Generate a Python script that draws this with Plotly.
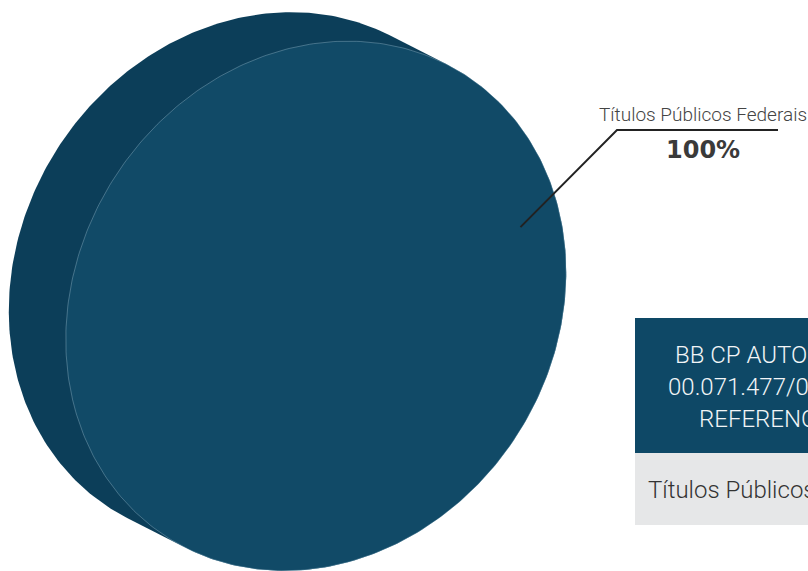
import numpy as np
import plotly.graph_objects as go

# ---- data ----
categories = ["Títulos Públicos Federais"]
values = [100]
fund_header = ["BB CP AUTOMÁTICO", "00.071.477/0001-68", "REFERENCIADO"]

# ---- geometry of the pseudo-3D pie (pixel coordinates) ----
W, H = 808, 571
cx, cy = 316, 306
a, b = 275, 239
phi = np.deg2rad(57)
d = np.array([np.cos(phi), -np.sin(phi)])
n = np.array([np.sin(phi), np.cos(phi)])
depth = np.array([-57, -29])
start_t = np.deg2rad(-140.2)

FRONT = "#114a67"
SIDE = "#0c3e59"


def ell(t, r=1.0, off=(0, 0)):
    t = np.atleast_1d(t)
    x = cx + off[0] + r * (a * np.cos(t) * d[0] + b * np.sin(t) * n[0])
    y = cy + off[1] + r * (a * np.cos(t) * d[1] + b * np.sin(t) * n[1])
    return x, y


def hull(pts):
    pts = sorted(map(tuple, pts))
    def cross(o, p, q):
        return (p[0]-o[0])*(q[1]-o[1]) - (p[1]-o[1])*(q[0]-o[0])
    lower, upper = [], []
    for p in pts:
        while len(lower) >= 2 and cross(lower[-2], lower[-1], p) <= 0:
            lower.pop()
        lower.append(p)
    for p in reversed(pts):
        while len(upper) >= 2 and cross(upper[-2], upper[-1], p) <= 0:
            upper.pop()
        upper.append(p)
    return lower[:-1] + upper[:-1]


total = sum(values)
fig = go.Figure()

# side / extrusion
tt = np.linspace(0, 2*np.pi, 400)
fx, fy = ell(tt)
bx, by = ell(tt, off=depth)
h = hull(np.column_stack([np.r_[fx, bx], np.r_[fy, by]]))
hx = [p[0] for p in h] + [h[0][0]]
hy = [p[1] for p in h] + [h[0][1]]
fig.add_trace(go.Scatter(x=hx, y=hy, fill="toself", fillcolor=SIDE, mode="lines",
                         line=dict(width=0, color=SIDE), hoverinfo="skip", showlegend=False))

# front slices
cum = 0
anns = []
for cat, v in zip(categories, values):
    frac = v / total
    t0 = start_t + 2*np.pi*cum
    t1 = start_t + 2*np.pi*(cum + frac)
    ts = np.linspace(t0, t1, 400)
    sx, sy = ell(ts)
    if frac < 1:
        sx = np.r_[cx, sx, cx]
        sy = np.r_[cy, sy, cy]
    fig.add_trace(go.Scatter(x=sx, y=sy, fill="toself", fillcolor=FRONT, mode="lines",
                             line=dict(width=1, color="rgba(200,225,240,0.3)"),
                             name=cat, hoverinfo="name", showlegend=False))
    tm = (t0 + t1) / 2
    px, py = ell(tm, r=0.84)
    anns.append((cat, v / total * 100, float(px[0]), float(py[0])))
    cum += frac

shapes = []
annotations = []
for cat, pct, px, py in anns:
    ex, ey = 617, 130
    shapes.append(dict(type="path", xref="x", yref="y",
                       path=f"M {px},{py} L {ex},{ey} L 778,{ey}",
                       line=dict(color="#222222", width=2)))
    annotations.append(dict(x=703, y=114, xref="x", yref="y", text=cat, showarrow=False,
                            font=dict(family="Roboto", size=19, color="#444444", weight=300)))
    annotations.append(dict(x=703, y=150, xref="x", yref="y", text=f"<b>{pct:.0f}%</b>",
                            showarrow=False,
                            font=dict(family="DejaVu Sans", size=24, color="#3a3a3a")))

# table (partially visible at the right edge)
shapes.append(dict(type="rect", xref="x", yref="y", x0=635, x1=1000, y0=318, y1=453,
                   fillcolor="#0e4866", line=dict(width=0), layer="above"))
shapes.append(dict(type="rect", xref="x", yref="y", x0=635, x1=1000, y0=453, y1=525,
                   fillcolor="#e6e7e8", line=dict(width=0), layer="above"))
header_x = [673, 666, 697]
for i, line in enumerate(fund_header):
    annotations.append(dict(x=header_x[i], y=355 + 32*i, xref="x", yref="y", text=line,
                            showarrow=False, xanchor="left",
                            font=dict(family="Roboto", size=24, color="#f2f5f7", weight=300)))
annotations.append(dict(x=646, y=490, xref="x", yref="y", text=categories[0], showarrow=False,
                        xanchor="left",
                        font=dict(family="Roboto", size=24, color="#333333", weight=300)))

fig.update_layout(
    width=W, height=H, margin=dict(l=0, r=0, t=0, b=0),
    paper_bgcolor="white", plot_bgcolor="white",
    xaxis=dict(range=[0, W], visible=False, fixedrange=True),
    yaxis=dict(range=[H, 0], visible=False, fixedrange=True),
    shapes=shapes, annotations=annotations,
)
fig.write_html("out.html", config={"displayModeBar": False},
               post_script="document.body.style.margin='0';document.body.style.overflow='hidden';")
